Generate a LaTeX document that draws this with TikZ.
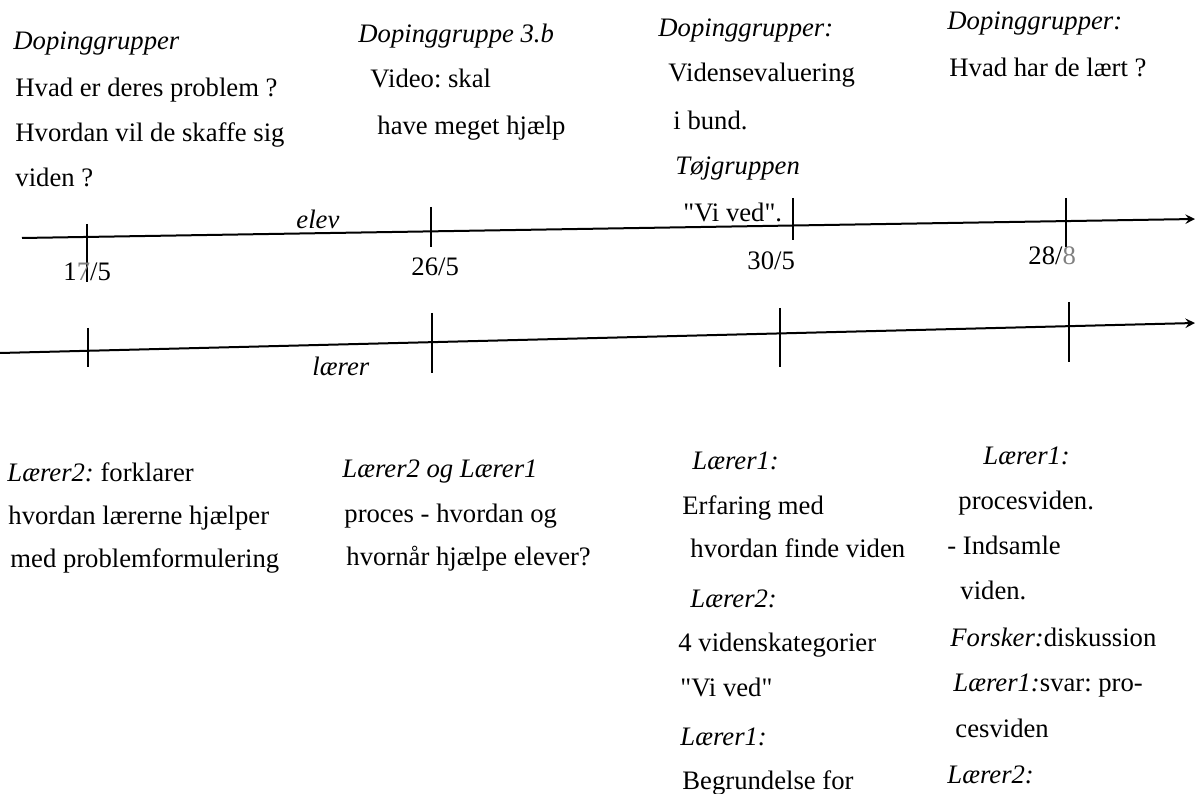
\documentclass[tikz,border=0pt]{standalone}
\usepackage{fontspec}
\setmainfont{Liberation Serif}
\frenchspacing

\begin{document}
\begin{tikzpicture}[
		x=0.45pt, y=-0.45pt,
		every node/.style={font=\fontsize{12}{14}\selectfont, inner sep=0pt, anchor=base west},
		hd/.style={font=\fontsize{12}{14}\selectfont\itshape},
		axis/.style={draw, line width=0.9pt, ->, >=stealth},
		tick/.style={draw, line width=0.7pt},
		]
		\useasboundingbox (0,0) rectangle (1195,794);

		% time axes
		\coordinate (elevstart) at (22,238);
		\coordinate (elevend) at (1195,219);
		\coordinate (laererstart) at (0,353);
		\coordinate (laererend) at (1195,323);
		\draw[axis] (elevstart) -- (elevend);
		\draw[axis] (laererstart) -- (laererend);

		% ticks
		\foreach \x/\a/\b in {87/224/282, 431/207/247, 793/198/240, 1066/198/247}
			\draw[tick] (\x,\a) -- (\x,\b);
		\foreach \x/\a/\b in {88/328/367, 432/313/373, 780/308/367, 1069/302/362}
			\draw[tick] (\x,\a) -- (\x,\b);

		% dates and axis names
		\node (d17) at (63,281) {1\textcolor{black!50}{7}/5};
		\node (d26) at (411,276) {26/5};
		\node (d30) at (747,270) {30/5};
		\node (d28) at (1028,265) {28/\textcolor{black!50}{8}};
		\node[hd] (elev) at (296,229) {elev};
		\node[hd] (laerer) at (312,376) {lærer};

		% elev, 17/5
		\node[hd] (e1a) at (13,50) {Dopinggrupper};
		\node (e1b) at (15,97) {Hvad er deres problem ?};
		\node (e1c) at (15,142) {Hvordan vil de skaffe sig};
		\node (e1d) at (15,187) {viden ?};
		% elev, 26/5
		\node[hd] (e2a) at (358,43) {Dopinggruppe 3.b};
		\node (e2b) at (370,88) {Video: skal};
		\node (e2c) at (377,135) {have meget hjælp};
		% elev, 30/5
		\node[hd] (e3a) at (658,37) {Dopinggrupper:};
		\node (e3b) at (668,82) {Vidensevaluering};
		\node (e3c) at (673,130) {i bund.};
		\node[hd] (e3d) at (675,175) {Tøjgruppen};
		\node (e3e) at (683,222) {\textquotedbl Vi ved\textquotedbl .};
		% elev, 28/8
		\node[hd] (e4a) at (947,30) {Dopinggrupper:};
		\node (e4b) at (949,77) {Hvad har de lært ?};

		% laerer, 17/5
		\node (l1a) at (7,482) {\textit{Lærer2:} forklarer};
		\node (l1b) at (8,525) {hvordan lærerne hjælper};
		\node (l1c) at (10,568) {med problemformulering};
		% laerer, 26/5
		\node[hd] (l2a) at (342,478) {Lærer2 og Lærer1};
		\node (l2b) at (344,523) {proces - hvordan og};
		\node (l2c) at (346,566) {hvornår hjælpe elever?};
		% laerer, 30/5
		\node[hd] (l3a) at (692,470) {Lærer1:};
		\node (l3b) at (682,515) {Erfaring med};
		\node (l3c) at (690,558) {hvordan finde viden};
		\node[hd] (l3d) at (690,608) {Lærer2:};
		\node (l3e) at (678,652) {4 videnskategorier};
		\node (l3f) at (680,697) {\textquotedbl Vi ved\textquotedbl};
		\node[hd] (l3g) at (680,745) {Lærer1:};
		\node (l3h) at (682,790) {Begrundelse for};
		% laerer, 28/8
		\node[hd] (l4a) at (983,465) {Lærer1:};
		\node (l4b) at (958,510) {procesviden.};
		\node (l4c) at (947,555) {- Indsamle};
		\node (l4d) at (960,600) {viden.};
		\node (l4e) at (950,647) {\textit{Forsker:}diskussion};
		\node (l4f) at (953,692) {\textit{Lærer1:}svar: pro-};
		\node (l4g) at (955,738) {cesviden};
		\node[hd] (l4h) at (947,783) {Lærer2:};
	\end{tikzpicture}
\end{document}
